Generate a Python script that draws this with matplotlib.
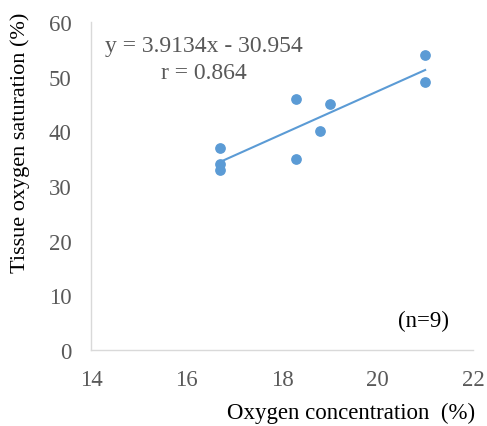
import matplotlib
matplotlib.use("Agg")
import matplotlib.pyplot as plt
import numpy as np

# данные
oxygenConc = [16.7, 16.7, 16.7, 18.3, 18.3, 18.8, 19.0, 21.0, 21.0]
tissueSat = [37, 34, 33, 46, 35, 40, 45, 54, 49]
xTicks = [14, 16, 18, 20, 22]
yTicks = [0, 10, 20, 30, 40, 50, 60]

textColor = "#595959"
pointColor = "#5b9bd5"

plt.rcParams["font.family"] = ["Liberation Serif", "DejaVu Serif"]

fig = plt.figure(figsize=(4.87, 4.27), dpi=100)
ax = fig.add_axes([0.187, 0.178, 0.784, 0.768])

# линия тренда
k, b = np.polyfit(oxygenConc, tissueSat, 1)
xLine = np.array([min(oxygenConc), max(oxygenConc)])
ax.plot(xLine, k * xLine + b, color=pointColor, linewidth=1.5, zorder=2)
ax.scatter(oxygenConc, tissueSat, s=45, color=pointColor, zorder=3)

ax.set_xlim(14, 22)
ax.set_ylim(0, 60)
ax.set_xticks(xTicks)
ax.set_yticks(yTicks)
ax.tick_params(length=0, labelsize=16.5, labelcolor=textColor)
ax.tick_params(axis="y", pad=14)
ax.tick_params(axis="x", pad=14)

for side in ["top", "right"]:
    ax.spines[side].set_visible(False)
for side in ["left", "bottom"]:
    ax.spines[side].set_color("#d9d9d9")
    ax.spines[side].set_linewidth(1.0)

fig.text(0.041, 0.665, "Tissue oxygen saturation (%)", fontsize=16, rotation=90,
         ha="center", va="center")
fig.text(0.975, 0.033, "Oxygen concentration  (%)", fontsize=16.5, ha="right", va="center")

ax.text(0.296, 0.927, "y = 3.9134x - 30.954", transform=ax.transAxes,
        fontsize=17, color=textColor, ha="center", va="center")
ax.text(0.296, 0.845, "r = 0.864", transform=ax.transAxes,
        fontsize=17, color=textColor, ha="center", va="center")
ax.text(0.937, 0.09, "(n=9)", transform=ax.transAxes,
        fontsize=16.5, color="black", ha="right", va="center")

fig.savefig("out.png", dpi=100)
